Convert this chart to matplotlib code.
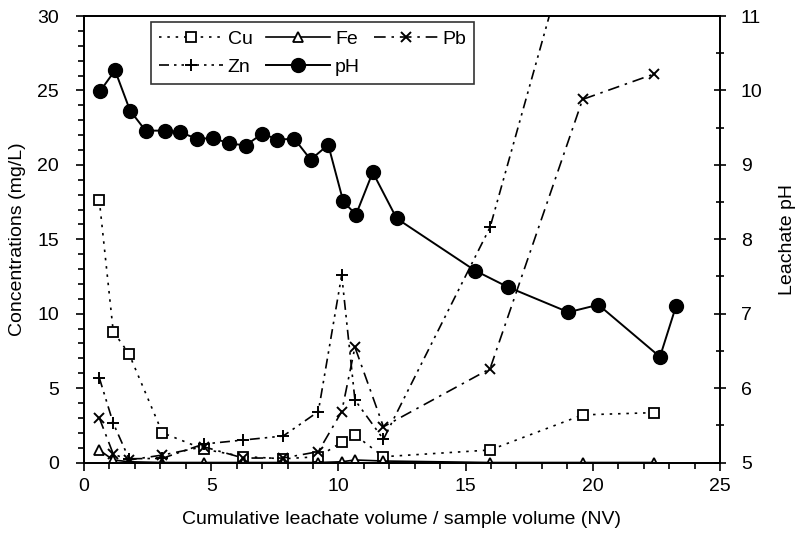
import matplotlib
matplotlib.use("Agg")
import matplotlib.pyplot as plt
from matplotlib.ticker import MultipleLocator

plt.rcParams['font.family'] = ['Liberation Sans', 'DejaVu Sans']

# Metal concentrations (mg/L) vs NV
nv_metal = [0.6, 1.15, 1.77, 3.08, 4.7, 6.26, 7.83, 9.21, 10.13, 10.65, 11.77, 15.96, 19.6, 22.4]
cu = [17.65, 8.8, 7.3, 2.0, 0.9, 0.4, 0.25, 0.39, 1.36, 1.85, 0.39, 0.84, 3.2, 3.35]
fe = [0.84, 0.17, 0.05, 0.0, 0.0, 0.0, 0.0, 0.0, 0.05, 0.17, 0.1, 0.0, 0.0, 0.0]
pb = [3.0, 0.57, 0.17, 0.5, 1.06, 0.3, 0.3, 0.73, 3.42, 7.75, 2.4, 6.3, 24.4, 26.1]
zn = [5.7, 2.64, 0.25, 0.28, 1.24, 1.51, 1.78, 3.42, 12.6, 4.2, 1.56, 15.8, 38.0, 42.0]

# Leachate pH vs NV
nv_ph = [0.63, 1.22, 1.81, 2.42, 3.18, 3.77, 4.45, 5.06, 5.71, 6.35, 7.01, 7.6, 8.27,
         8.91, 9.6, 10.19, 10.69, 11.35, 12.29, 15.37, 16.65, 19.04, 20.22, 22.64, 23.27]
ph = [9.99, 10.27, 9.73, 9.46, 9.46, 9.44, 9.35, 9.36, 9.29, 9.26, 9.42, 9.34, 9.35,
      9.07, 9.27, 8.51, 8.33, 8.90, 8.28, 7.58, 7.36, 7.02, 7.12, 6.42, 7.10]

fig = plt.figure(figsize=(8.0, 5.35), dpi=100)
ax = fig.add_axes([0.105, 0.1355, 0.795, 0.8345])
ax2 = ax.twinx()

lw = 1.2
ms = 7
h_cu, = ax.plot(nv_metal, cu, linestyle=(0, (1.5, 3.5)), color='black', lw=lw,
                marker='s', ms=ms, mfc='white', mec='black', mew=1.3, label='Cu')
h_fe, = ax.plot(nv_metal, fe, linestyle='-', color='black', lw=lw,
                marker='^', ms=ms + 0.5, mfc='white', mec='black', mew=1.3, label='Fe')
h_pb, = ax.plot(nv_metal, pb, linestyle=(0, (7, 3.5, 1.5, 3.5)), color='black', lw=lw,
                marker='x', ms=ms, mec='black', mew=1.4, label='Pb')
h_zn, = ax.plot(nv_metal, zn, linestyle=(0, (6, 3, 1.5, 3, 1.5, 3)), color='black', lw=lw,
                marker='+', ms=ms + 1, mec='black', mew=1.4, label='Zn')
h_ph, = ax2.plot(nv_ph, ph, linestyle='-', color='black', lw=1.4,
                 marker='o', ms=10, mfc='black', mec='black', label='pH')

ax.set_xlim(0, 25)
ax.set_ylim(0, 30)
ax2.set_ylim(5, 11)

ax.xaxis.set_major_locator(MultipleLocator(5))
ax.xaxis.set_minor_locator(MultipleLocator(1))
ax.yaxis.set_major_locator(MultipleLocator(5))
ax.yaxis.set_minor_locator(MultipleLocator(1))
ax2.yaxis.set_major_locator(MultipleLocator(1))
ax2.yaxis.set_minor_locator(MultipleLocator(0.5))

fs = 14
ax.tick_params(axis='x', which='major', direction='out', length=6, width=1.2, labelsize=fs, pad=5)
ax.tick_params(axis='x', which='minor', direction='out', length=4, width=1.2)
ax.tick_params(axis='y', which='major', direction='out', length=6, width=1.2, labelsize=fs, pad=12)
ax.tick_params(axis='y', which='minor', direction='out', length=4, width=1.2)
ax2.tick_params(axis='y', which='major', direction='inout', length=8, width=1.2, labelsize=fs, pad=11)
ax2.tick_params(axis='y', which='minor', direction='inout', length=6, width=1.2)

for a in (ax, ax2):
    for s in a.spines.values():
        s.set_linewidth(1.3)

ax.set_xlabel('Cumulative leachate volume / sample volume (NV)', fontsize=fs, labelpad=12)
ax.set_ylabel('Concentrations (mg/L)', fontsize=fs, labelpad=8)
ax2.set_ylabel('Leachate pH', fontsize=fs, labelpad=12)

leg = ax.legend([h_cu, h_zn, h_fe, h_ph, h_pb], ['Cu', 'Zn', 'Fe', 'pH', 'Pb'],
                ncol=3, loc='upper left', bbox_to_anchor=(0.105, 0.986), fontsize=fs,
                frameon=True, fancybox=False, edgecolor='black', handlelength=3.3,
                columnspacing=0.7, handletextpad=0.25, borderpad=0.4, labelspacing=0.55,
                borderaxespad=0.0)
leg.get_frame().set_linewidth(1.2)
leg.set_zorder(5)

fig.savefig('out.png', dpi=100, facecolor='white')
